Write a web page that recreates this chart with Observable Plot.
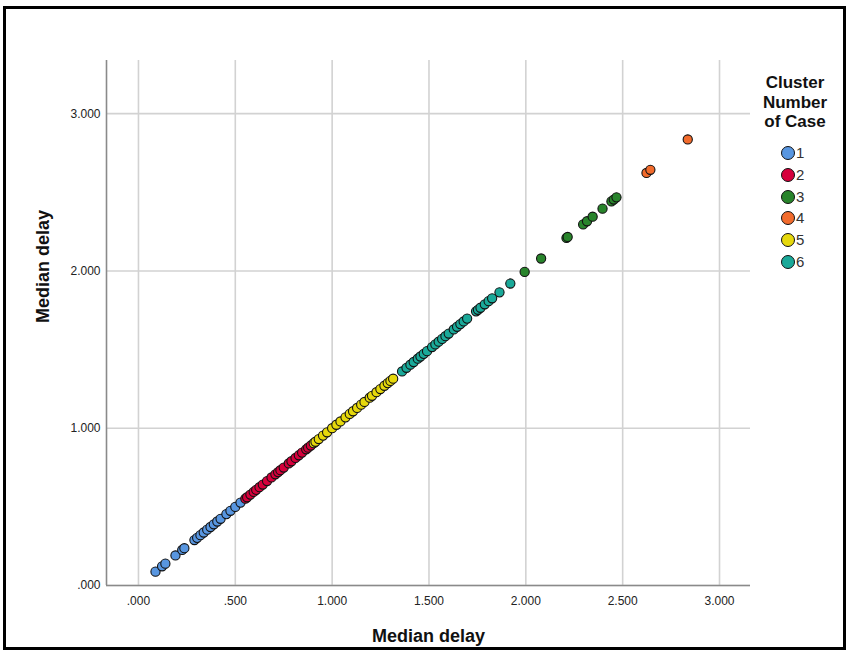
<!DOCTYPE html>
<html>
<head>
<meta charset="utf-8">
<script src="https://cdn.jsdelivr.net/npm/d3@7"></script>
<script src="https://cdn.jsdelivr.net/npm/@observablehq/plot@0.6"></script>
<style>
  html, body { margin: 0; padding: 0; background: #fff; }
  #wrap { position: relative; width: 848px; height: 651px; overflow: hidden; font-family: "Liberation Sans", Arial, sans-serif; }
  #frame { position: absolute; left: 3px; top: 6px; width: 837px; height: 638px; border: 3px solid #000; pointer-events: none; }
  #legend { position: absolute; left: 0; top: 0; width: 848px; height: 651px; pointer-events: none; }
  .ltitle { position: absolute; left: 745px; top: 73px; width: 100px; text-align: center; font-weight: bold; font-size: 17px; line-height: 19.5px; color: #111; }
  .lsw { position: absolute; width: 12px; height: 12px; border-radius: 50%; border: 1px solid #111; box-sizing: content-box; }
  .llab { position: absolute; font-size: 15px; line-height: 16px; color: #333; }
</style>
</head>
<body>
<div id="wrap">
  <div id="chart"></div>
  <div id="legend"></div>
  <div id="frame"></div>
</div>
<script>
// Cluster values of "Median delay" (plotted against itself)
const cluster1 = [0.088,0.122,0.139,0.191,0.226,0.237,0.289,0.303,0.320,0.337,0.355,0.372,0.389,0.407,0.424,0.454,0.475,0.500,0.527];
const cluster2 = [0.552,0.561,0.578,0.595,0.608,0.625,0.642,0.664,0.687,0.707,0.721,0.733,0.750,0.776,0.790,0.811,0.828,0.845,0.866,0.876,0.890];
const cluster3 = [1.994,2.079,2.210,2.216,2.296,2.316,2.345,2.396,2.442,2.454,2.468];
const cluster4 = [2.623,2.643,2.836];
const cluster5 = [0.905,0.914,0.931,0.953,0.974,1.000,1.022,1.043,1.069,1.091,1.108,1.129,1.150,1.167,1.194,1.206,1.229,1.249,1.270,1.287,1.301,1.315];
const cluster6 = [1.361,1.384,1.404,1.421,1.442,1.456,1.473,1.490,1.516,1.533,1.550,1.568,1.585,1.602,1.628,1.645,1.662,1.679,1.697,1.743,1.753,1.766,1.788,1.808,1.826,1.864,1.920];

const clusterIds = ["1","2","3","4","5","6"];
const clusterColors = ["#5896e0","#d6003c","#28842b","#f26b2c","#e6d80c","#1aa999"];

const xTicks = [0, 0.5, 1, 1.5, 2, 2.5, 3];
const xTickLabels = [".000", ".500", "1.000", "1.500", "2.000", "2.500", "3.000"];
const yTicks = [0, 1, 2, 3];
const yTickLabels = [".000", "1.000", "2.000", "3.000"];

const axisTitle = "Median delay";
const legendTitle = ["Cluster", "Number", "of Case"];

const groups = [cluster1, cluster2, cluster3, cluster4, cluster5, cluster6];
const data = [];
groups.forEach((arr, i) => arr.forEach(v => data.push({ v, cluster: clusterIds[i] })));

const chart = Plot.plot({
  width: 848,
  height: 651,
  marginLeft: 106,
  marginRight: 98,
  marginTop: 60,
  marginBottom: 66,
  style: { fontFamily: "'Liberation Sans', Arial, sans-serif", fontSize: "12px", color: "#222", background: "transparent" },
  x: { domain: [-0.165, 3.16], label: null },
  y: { domain: [0, 3.338], label: null },
  color: { domain: clusterIds, range: clusterColors },
  marks: [
    Plot.gridX(xTicks, { stroke: "#d2d2d2", strokeOpacity: 1, strokeWidth: 1.6 }),
    Plot.gridY(yTicks, { stroke: "#d2d2d2", strokeOpacity: 1, strokeWidth: 1.6 }),
    Plot.axisX(xTicks, { tickSize: 0, tickPadding: 11, tickFormat: (d, i) => xTickLabels[i], fill: "#222" }),
    Plot.axisY(yTicks, { tickSize: 0, tickPadding: 6, tickFormat: (d, i) => yTickLabels[i], fill: "#222" }),
    Plot.ruleY([0], { stroke: "#8a8a8a", strokeWidth: 1.6 }),
    Plot.ruleX([-0.165], { stroke: "#8a8a8a", strokeWidth: 1.6 }),
    Plot.dot(data, { x: "v", y: "v", fill: "cluster", stroke: "#111", strokeWidth: 1.1, r: 4.6 }),
    Plot.text([axisTitle], { frameAnchor: "bottom", lineAnchor: "middle", dy: 51, fontWeight: "bold", fontSize: 18, fill: "#111" }),
    Plot.text([axisTitle], { frameAnchor: "left", dx: -63, rotate: -90, fontWeight: "bold", fontSize: 18, fill: "#111" })
  ]
});
document.getElementById("chart").appendChild(chart);

// Legend
const lg = document.getElementById("legend");
const t = document.createElement("div");
t.className = "ltitle";
t.innerHTML = legendTitle.join("<br>");
lg.appendChild(t);
clusterIds.forEach((id, i) => {
  const cy = 153 + i * 21.8;
  const sw = document.createElement("div");
  sw.className = "lsw";
  sw.style.left = (788 - 7) + "px";
  sw.style.top = (cy - 7) + "px";
  sw.style.background = clusterColors[i];
  lg.appendChild(sw);
  const lab = document.createElement("div");
  lab.className = "llab";
  lab.style.left = "796px";
  lab.style.top = (cy - 8) + "px";
  lab.textContent = id;
  lg.appendChild(lab);
});
</script>
</body>
</html>
